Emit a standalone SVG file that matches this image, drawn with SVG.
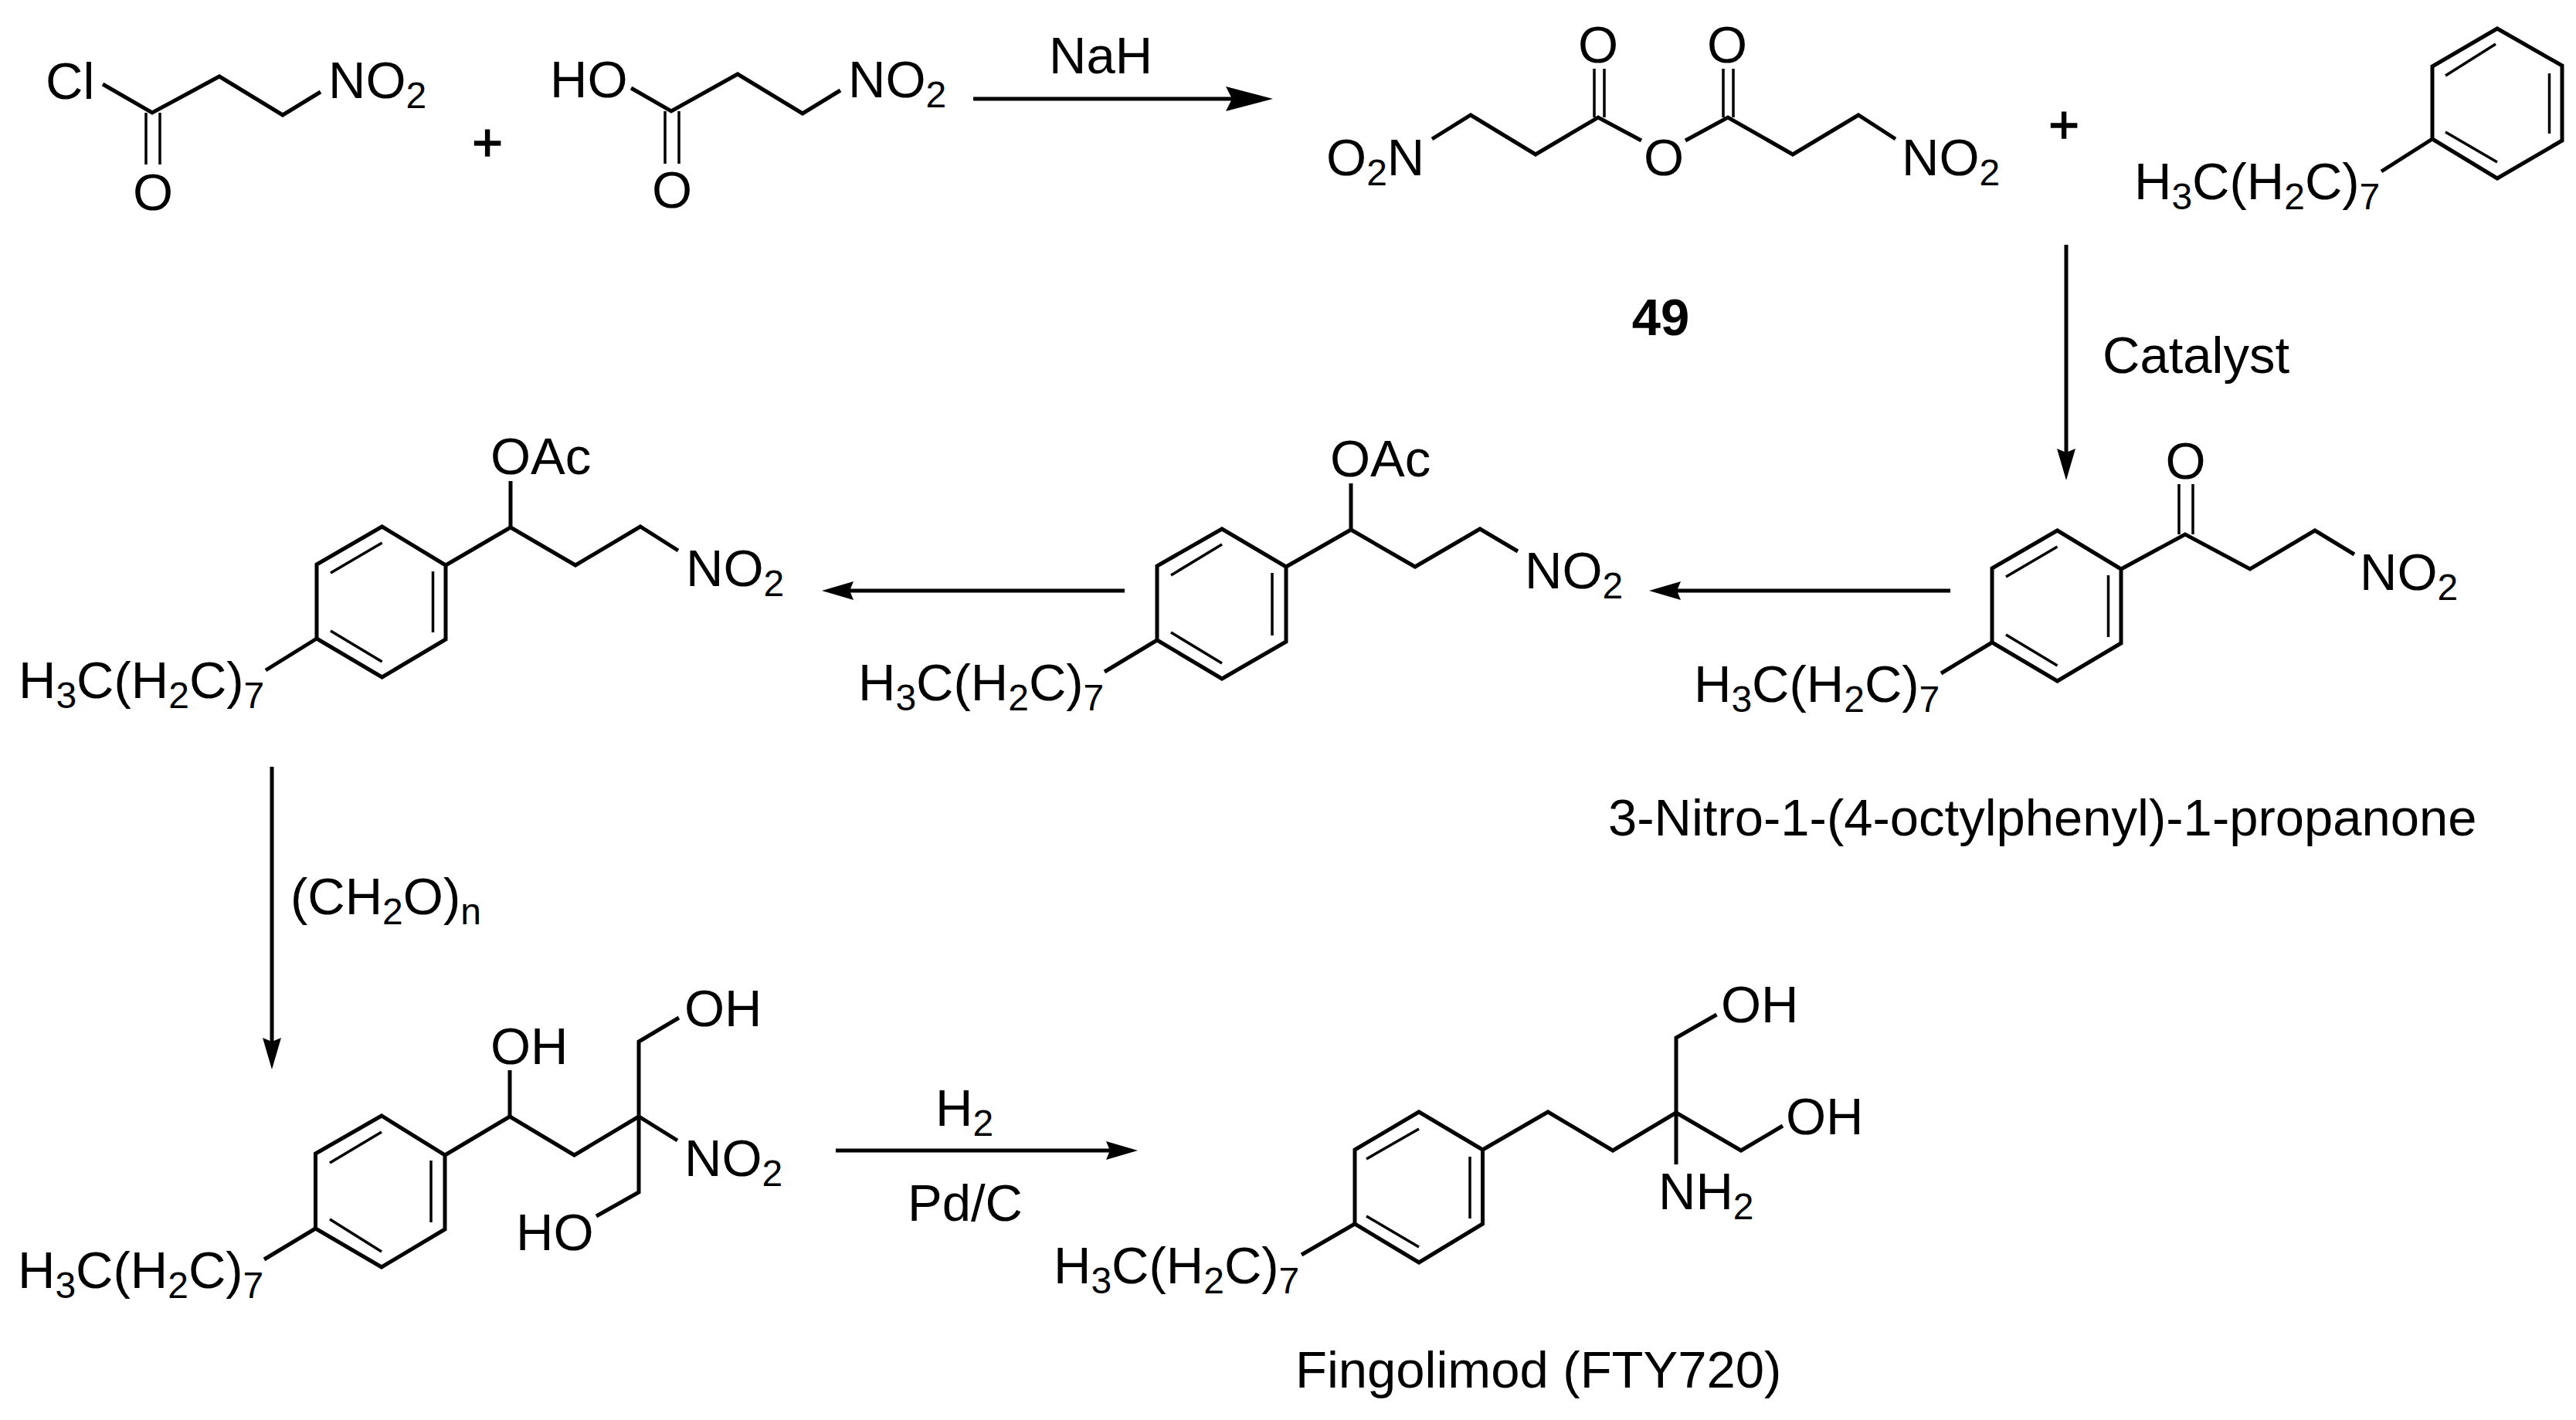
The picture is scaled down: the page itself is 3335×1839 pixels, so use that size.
<svg xmlns="http://www.w3.org/2000/svg" width="3335" height="1839" viewBox="0 0 3335 1839">
<style>
text{font-family:"Liberation Sans",Arial,sans-serif;font-size:67px;fill:#000}
.s{font-size:48px}
.m{text-anchor:middle}
.b{font-weight:bold}
.p{font-size:68px;text-anchor:middle;stroke:#000;stroke-width:1.5}
.bond{fill:none;stroke:#000;stroke-width:5;stroke-linejoin:miter}
.in{fill:none;stroke:#000;stroke-width:3.5}
.arrow{fill:none;stroke:#000;stroke-width:5}
</style>
<defs>
<marker id="head" markerUnits="userSpaceOnUse" markerWidth="50" markerHeight="30" refX="5" refY="12" orient="auto" overflow="visible"><path d="M0,0L41,12L0,24L5,12z" fill="#000"/></marker>
<marker id="headL" markerUnits="userSpaceOnUse" markerWidth="70" markerHeight="40" refX="8" refY="16" orient="auto" overflow="visible"><path d="M0,0L61,16L0,32L8,16z" fill="#000"/></marker>
</defs>
<rect width="3335" height="1839" fill="#fff"/>
<g id="connectors">
<line class="arrow" x1="1260" y1="128" x2="1595" y2="128" marker-end="url(#headL)"/>
<line class="arrow" x1="2675" y1="317" x2="2675" y2="586" marker-end="url(#head)"/>
<line class="arrow" x1="2525" y1="765" x2="2171" y2="765" marker-end="url(#head)"/>
<line class="arrow" x1="1456" y1="765" x2="1100" y2="765" marker-end="url(#head)"/>
<line class="arrow" x1="352" y1="993" x2="352" y2="1349" marker-end="url(#head)"/>
<line class="arrow" x1="1082" y1="1490" x2="1437" y2="1490" marker-end="url(#head)"/>
</g>
<g id="acyl-chloride">
<polyline class="bond" points="133,109 197,146 284,99 366,149 415,119"/>
<line class="in" x1="189" y1="146" x2="189" y2="213"/><line class="in" x1="207" y1="146" x2="207" y2="213"/>
<text x="59" y="128">Cl</text><text class="m" x="198" y="272">O</text>
<text x="425" y="127">NO<tspan class="s" dy="13">2</tspan></text>
</g>
<text class="p" x="631" y="208">+</text>
<g id="nitropropanoic-acid">
<polyline class="bond" points="817,114 869,144 955,96 1039,147 1088,117"/>
<line class="in" x1="861" y1="144" x2="861" y2="212"/><line class="in" x1="879" y1="144" x2="879" y2="212"/>
<text x="712" y="126">HO</text><text class="m" x="870" y="269">O</text>
<text x="1098" y="126">NO<tspan class="s" dy="13">2</tspan></text>
</g>
<text id="reagent-nah" x="1358" y="95">NaH</text>
<g id="anhydride-49">
<polyline class="bond" points="1854,180 1904,149 1988,200 2069,152 2125,182"/>
<polyline class="bond" points="2182,182 2237,152 2321,200 2406,149 2454,180"/>
<line class="in" x1="2064" y1="89" x2="2064" y2="152"/><line class="in" x1="2077" y1="89" x2="2077" y2="152"/>
<line class="in" x1="2231" y1="89" x2="2231" y2="152"/><line class="in" x1="2244" y1="89" x2="2244" y2="152"/>
<text x="1717" y="227">O<tspan class="s" dy="13">2</tspan><tspan dy="-13">N</tspan></text>
<text class="m" x="2154" y="227">O</text><text class="m" x="2069" y="81">O</text><text class="m" x="2236" y="81">O</text>
<text x="2462" y="227">NO<tspan class="s" dy="13">2</tspan></text>
<text class="b m" x="2150" y="434">49</text>
</g>
<text class="p" x="2672" y="185">+</text>
<g id="octylbenzene">
<polygon class="bond" points="3233,37 3149,86 3149,180 3233,231 3317,182 3317,85"/>
<line class="in" x1="3231" y1="57" x2="3166" y2="98"/><line class="in" x1="3300.5" y1="95" x2="3300.5" y2="173"/><line class="in" x1="3166" y1="171" x2="3233" y2="210"/>
<line class="bond" x1="3149" y1="180" x2="3083" y2="222"/>
<text x="2763" y="258">H<tspan class="s" dy="13">3</tspan><tspan dy="-13">C(H</tspan><tspan class="s" dy="13">2</tspan><tspan dy="-13">C)</tspan><tspan class="s" dy="13">7</tspan></text>
</g>
<text id="reagent-catalyst" x="2722" y="483">Catalyst</text>
<g id="nitropropanone">
<polygon class="bond" points="2663.5,687 2579,736 2579,832 2663.5,882 2746,833 2746,737"/>
<line class="in" x1="2663.5" y1="708" x2="2597" y2="747"/><line class="in" x1="2729.5" y1="745" x2="2729.5" y2="825"/><line class="in" x1="2597" y1="822" x2="2663.5" y2="862"/>
<polyline class="bond" points="2746,737 2829,692 2913,737 2997,687 3048,718"/>
<line class="in" x1="2821" y1="627" x2="2821" y2="692"/><line class="in" x1="2839" y1="627" x2="2839" y2="692"/>
<line class="bond" x1="2579" y1="832" x2="2513" y2="872"/>
<text class="m" x="2829.5" y="620">O</text>
<text x="3055" y="764">NO<tspan class="s" dy="13">2</tspan></text>
<text x="2193" y="909">H<tspan class="s" dy="13">3</tspan><tspan dy="-13">C(H</tspan><tspan class="s" dy="13">2</tspan><tspan dy="-13">C)</tspan><tspan class="s" dy="13">7</tspan></text>
<text x="2082" y="1082">3-Nitro-1-(4-octylphenyl)-1-propanone</text>
</g>
<g id="acetate-middle">
<polygon class="bond" points="1582,685 1498,733 1498,829 1582,879 1665,831 1665,734"/>
<line class="in" x1="1582" y1="705" x2="1516" y2="745"/><line class="in" x1="1647" y1="742" x2="1647" y2="823"/><line class="in" x1="1516" y1="819" x2="1582" y2="859"/>
<polyline class="bond" points="1665,734 1749,686 1832,734 1916,685 1965,714"/>
<line class="bond" x1="1749" y1="686" x2="1749" y2="626"/>
<line class="bond" x1="1498" y1="829" x2="1430" y2="870"/>
<text x="1722" y="617">OAc</text>
<text x="1974" y="762">NO<tspan class="s" dy="13">2</tspan></text>
<text x="1111" y="907">H<tspan class="s" dy="13">3</tspan><tspan dy="-13">C(H</tspan><tspan class="s" dy="13">2</tspan><tspan dy="-13">C)</tspan><tspan class="s" dy="13">7</tspan></text>
</g>
<g id="acetate-left">
<polygon class="bond" points="494.6,682 410,731 410,827 494.6,877 577,828 577,732"/>
<line class="in" x1="494.6" y1="703" x2="428" y2="742"/><line class="in" x1="560.5" y1="740" x2="560.5" y2="819"/><line class="in" x1="428" y1="817" x2="494.6" y2="857"/>
<polyline class="bond" points="577,732 661,683 745,732 829,682 878,713"/>
<line class="bond" x1="661" y1="683" x2="661" y2="623"/>
<line class="bond" x1="410" y1="827" x2="344" y2="868"/>
<text x="635" y="614">OAc</text>
<text x="888" y="759">NO<tspan class="s" dy="13">2</tspan></text>
<text x="24" y="904">H<tspan class="s" dy="13">3</tspan><tspan dy="-13">C(H</tspan><tspan class="s" dy="13">2</tspan><tspan dy="-13">C)</tspan><tspan class="s" dy="13">7</tspan></text>
</g>
<text id="reagent-formaldehyde" x="376" y="1184">(CH<tspan class="s" dy="13">2</tspan><tspan dy="-13">O)</tspan><tspan class="s" dy="13">n</tspan></text>
<g id="nitrodiol">
<polygon class="bond" points="494,1445 408.5,1494 408.5,1591 494,1641 576,1592 576,1496"/>
<line class="in" x1="494" y1="1466" x2="427" y2="1506"/><line class="in" x1="558" y1="1503" x2="558" y2="1583"/><line class="in" x1="427" y1="1579" x2="494" y2="1621"/>
<polyline class="bond" points="576,1496 660,1446 743.5,1496 827,1446 877,1477"/>
<line class="bond" x1="660" y1="1446" x2="660" y2="1386"/>
<polyline class="bond" points="879,1318 827,1349 827,1544 772,1575"/>
<line class="bond" x1="408.5" y1="1591" x2="342" y2="1631"/>
<text x="635" y="1378">OH</text><text x="886" y="1329">OH</text><text x="668" y="1619">HO</text>
<text x="886" y="1523">NO<tspan class="s" dy="13">2</tspan></text>
<text x="23" y="1668">H<tspan class="s" dy="13">3</tspan><tspan dy="-13">C(H</tspan><tspan class="s" dy="13">2</tspan><tspan dy="-13">C)</tspan><tspan class="s" dy="13">7</tspan></text>
</g>
<text id="reagent-h2" x="1211" y="1458">H<tspan class="s" dy="13">2</tspan></text>
<text id="reagent-pdc" x="1175" y="1581">Pd/C</text>
<g id="fingolimod">
<polygon class="bond" points="1837,1440 1754,1489 1754,1585 1837,1635 1919.5,1585 1919.5,1489"/>
<line class="in" x1="1837" y1="1462" x2="1769" y2="1501"/><line class="in" x1="1903" y1="1498" x2="1903" y2="1578"/><line class="in" x1="1769" y1="1575" x2="1837" y2="1615"/>
<polyline class="bond" points="1919.5,1489 2004,1440 2088,1490 2170,1441 2254,1490 2308,1458"/>
<polyline class="bond" points="2222.5,1314 2170,1344 2170,1508"/>
<line class="bond" x1="1754" y1="1585" x2="1685" y2="1625"/>
<text x="2228" y="1324">OH</text><text x="2312" y="1469">OH</text>
<text x="2147" y="1566">NH<tspan class="s" dy="13">2</tspan></text>
<text x="1364" y="1662">H<tspan class="s" dy="13">3</tspan><tspan dy="-13">C(H</tspan><tspan class="s" dy="13">2</tspan><tspan dy="-13">C)</tspan><tspan class="s" dy="13">7</tspan></text>
<text x="1677" y="1797">Fingolimod (FTY720)</text>
</g>
</svg>
